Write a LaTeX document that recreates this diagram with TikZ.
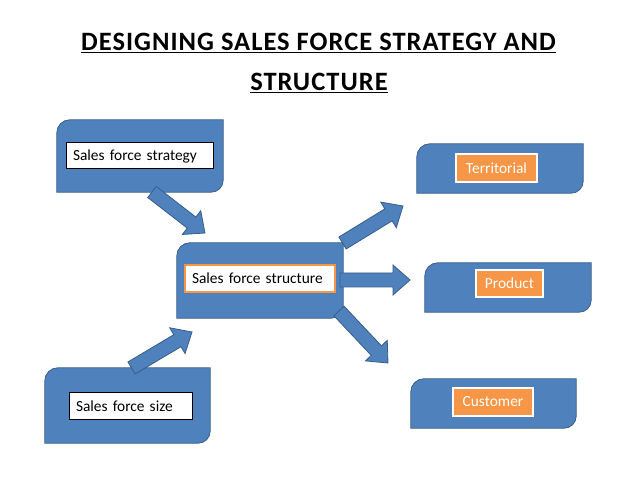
\documentclass[tikz,border=0pt]{standalone}
\usepackage{fontspec}
\setmainfont{Carlito}
\newfontfamily\titlefont[LetterSpace=3.8]{Carlito}
\usetikzlibrary{calc}
\definecolor{boxblue}{HTML}{4F81BD}
\definecolor{boxedge}{HTML}{385D8A}
\definecolor{lblorange}{HTML}{F79646}
\newcommand\diagshape[1]{\draw[shapeline] (#1.south west) -- ([yshift=-13pt]#1.north west) arc[start angle=180,end angle=90,radius=13pt] -- (#1.north east) -- ([yshift=12pt]#1.south east) arc[start angle=0,end angle=-90,radius=12pt] -- cycle;}
\newcommand\blockarrow[3]{%
  \coordinate (#3) at ($(#2)!17pt!(#1)$);
  \draw[shapeline] ($(#1)!7pt!90:(#2)$) -- ($(#3)!7pt!-90:(#1)$) -- ($(#3)!15pt!-90:(#1)$) -- (#2) -- ($(#3)!15pt!90:(#1)$) -- ($(#3)!7pt!90:(#1)$) -- ($(#1)!7pt!-90:(#2)$) -- cycle;}
\tikzset{
  shapebox/.style={draw=none, inner sep=0pt},
  shapeline/.style={draw=boxedge, fill=boxblue, line width=0.8pt},
  lblfont/.style={font=\fontsize{15.4}{18}\selectfont},
  whitelbl/.style={lblfont, draw=black, fill=white, line width=1pt, inner xsep=7pt, inner ysep=0pt, align=left},
  centerlbl/.style={lblfont, draw=lblorange, fill=white, line width=1.5pt, inner xsep=7pt, inner ysep=0pt, align=left},
  orangelbl/.style={lblfont, draw=white, fill=lblorange, line width=1.2pt, text=white, inner sep=0pt, align=center},
  titletext/.style={anchor=base, inner sep=0pt, font=\fontsize{26.5}{30}\selectfont\titlefont\bfseries}
}
\begin{document}
\begin{tikzpicture}[x=1pt,y=1pt]
\useasboundingbox[fill=white] (0,0) rectangle (638,479);
% title
\node[titletext] (title1) at (318.5,428) {\underline{DESIGNING SALES FORCE STRATEGY AND}};
\node[titletext] (title2) at (319,388) {\underline{STRUCTURE}};
% big boxes
\node[shapebox, minimum width=166pt, minimum height=72pt] (strat) at (140,323) {};
\node[shapebox, minimum width=166pt, minimum height=75pt] (struct) at (260,198.5) {};
\node[shapebox, minimum width=166pt, minimum height=49pt] (terr) at (500,310.5) {};
\node[shapebox, minimum width=166pt, minimum height=49pt] (prod) at (508,191.5) {};
\node[shapebox, minimum width=165pt, minimum height=49pt] (cust) at (493.5,75.5) {};
\node[shapebox, minimum width=165pt, minimum height=75pt] (size) at (127.5,73.5) {};
\foreach \n in {strat,struct,terr,prod,cust,size} {\diagshape{\n}}
% arrow ends
\coordinate (a1s) at (152,287);
\coordinate (a1e) at (205,246);
\coordinate (a2s) at (131.5,111);
\coordinate (a2e) at (192,147);
\coordinate (a3s) at (342.5,236);
\coordinate (a3e) at (403,273);
\coordinate (a4s) at (340,199);
\coordinate (a4e) at (410,199);
\coordinate (a5s) at (339,168);
\coordinate (a5e) at (388,116);
\blockarrow{a1s}{a1e}{a1h}
\blockarrow{a2s}{a2e}{a2h}
\blockarrow{a3s}{a3e}{a3h}
\blockarrow{a4s}{a4e}{a4h}
\blockarrow{a5s}{a5e}{a5h}
% labels
\node[whitelbl, text width=133pt, minimum height=26pt] (lstrat) at (139.5,323) {Sales force strategy};
\node[centerlbl, text width=136pt, minimum height=27pt] (lstruct) at (260,200.5) {Sales force structure};
\node[orangelbl, minimum width=81pt, minimum height=28pt] (lterr) at (496.5,311) {Territorial};
\node[orangelbl, minimum width=67pt, minimum height=27pt] (lprod) at (509.5,195.5) {Product};
\node[orangelbl, minimum width=80pt, minimum height=28pt] (lcust) at (493,77) {Customer};
\node[whitelbl, text width=109pt, minimum height=27pt] (lsize) at (130.5,72.5) {Sales force size};
\end{tikzpicture}
\end{document}
